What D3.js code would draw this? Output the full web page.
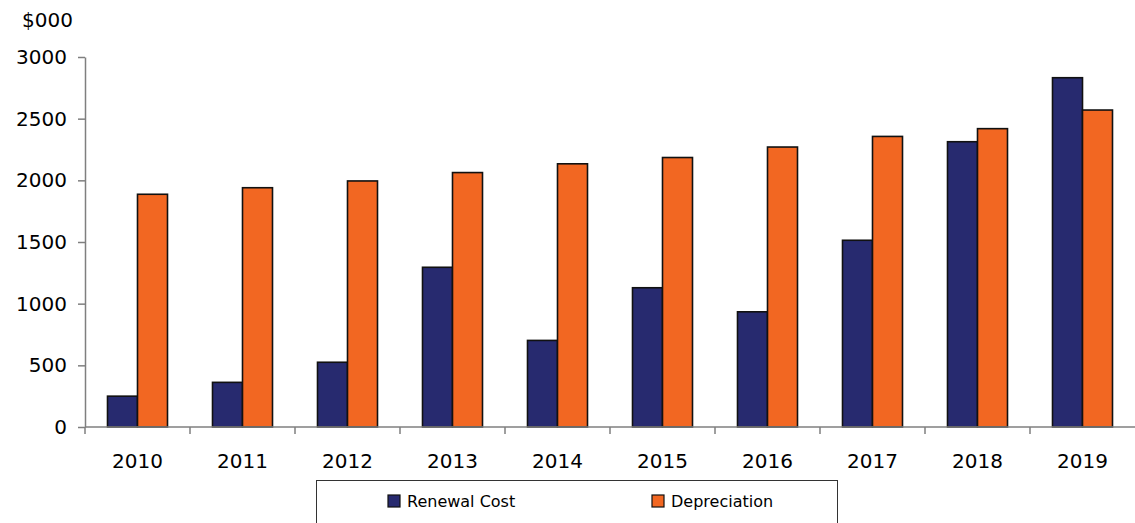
<!DOCTYPE html>
<html lang="en">
  <head>
    <meta charset="UTF-8" />
    <title>Renewal Cost vs Depreciation</title>
    <script src="https://d3js.org/d3.v7.min.js"></script>
    <style>
      body { margin: 0; background: #fff; }
      text { font-family: "DejaVu Sans", sans-serif; fill: #000; }
    </style>
  </head>
  <body>
    <svg width="1135" height="523"></svg>
    <script>
      // data
      const years = ["2010", "2011", "2012", "2013", "2014", "2015", "2016", "2017", "2018", "2019"];
      const renewal = [250, 362, 525, 1295, 702, 1129, 934, 1514, 2313, 2832];
      const depreciation = [1887, 1940, 1995, 2063, 2134, 2185, 2270, 2356, 2419, 2570];
      const seriesNames = ["Renewal Cost", "Depreciation"];
      const colors = ["#272A6F", "#F26722"];
      const yTicks = [0, 500, 1000, 1500, 2000, 2500, 3000];

      const svg = d3.select("svg");
      const plotLeft = 85, plotRight = 1135, plotTop = 57, plotBottom = 427;

      const x = d3.scaleBand().domain(years).range([plotLeft, plotRight]);
      const xInner = d3.scaleBand().domain(seriesNames).range([22.5, x.bandwidth() - 22.5]);
      const y = d3.scaleLinear().domain([0, 3000]).range([plotBottom, plotTop]);

      // bars
      const rows = years.map((yr, i) => ({ year: yr, values: [renewal[i], depreciation[i]] }));
      svg.append("g")
        .selectAll("g")
        .data(rows)
        .join("g")
        .attr("transform", d => `translate(${x(d.year)},0)`)
        .selectAll("rect")
        .data(d => d.values.map((v, j) => ({ name: seriesNames[j], value: v, color: colors[j] })))
        .join("rect")
        .attr("x", d => xInner(d.name))
        .attr("width", xInner.bandwidth())
        .attr("y", d => y(d.value))
        .attr("height", d => y(0) - y(d.value))
        .attr("fill", d => d.color)
        .attr("stroke", "#111")
        .attr("stroke-width", 1.6);

      // y axis
      const yAxis = svg.append("g")
        .attr("transform", `translate(${plotLeft},0)`)
        .call(d3.axisLeft(y).tickValues(yTicks).tickFormat(d3.format("d"))
          .tickSize(7).tickPadding(11).tickSizeOuter(0));
      yAxis.select(".domain").attr("stroke", "#7f7f7f").attr("stroke-width", 1.5);
      yAxis.selectAll(".tick line").attr("stroke", "#7f7f7f").attr("stroke-width", 1.5);
      yAxis.selectAll(".tick text").style("font-size", "20px").attr("font-family", null);

      // x axis: line, ticks at band edges, labels at centres
      const xAxis = svg.append("g").attr("transform", `translate(0,${plotBottom})`);
      xAxis.append("line")
        .attr("x1", plotLeft).attr("x2", plotRight)
        .attr("stroke", "#7f7f7f").attr("stroke-width", 1.5);
      xAxis.selectAll("line.tk")
        .data(years)
        .join("line")
        .attr("class", "tk")
        .attr("x1", d => x(d)).attr("x2", d => x(d))
        .attr("y1", 0).attr("y2", 7)
        .attr("stroke", "#7f7f7f").attr("stroke-width", 1.5);
      xAxis.selectAll("text")
        .data(years)
        .join("text")
        .attr("x", d => x(d) + x.bandwidth() / 2)
        .attr("y", 41)
        .attr("text-anchor", "middle")
        .style("font-size", "20px")
        .text(d => d);

      // unit label
      svg.append("text")
        .attr("x", 22).attr("y", 27)
        .style("font-size", "20px")
        .text("$000");

      // legend
      const legend = svg.append("g");
      legend.append("rect")
        .attr("x", 316.5).attr("y", 480.5)
        .attr("width", 521).attr("height", 60)
        .attr("fill", "#fff").attr("stroke", "#333").attr("stroke-width", 1);
      const legendX = [388, 652];
      const items = legend.selectAll("g.item")
        .data(seriesNames)
        .join("g")
        .attr("class", "item")
        .attr("transform", (d, i) => `translate(${legendX[i]},495)`);
      items.append("rect")
        .attr("width", 12).attr("height", 12)
        .attr("fill", (d, i) => colors[i])
        .attr("stroke", "#111").attr("stroke-width", 1.2);
      items.append("text")
        .attr("x", 19).attr("y", 11.5)
        .style("font-size", "16px")
        .text(d => d);
    </script>
  </body>
</html>
